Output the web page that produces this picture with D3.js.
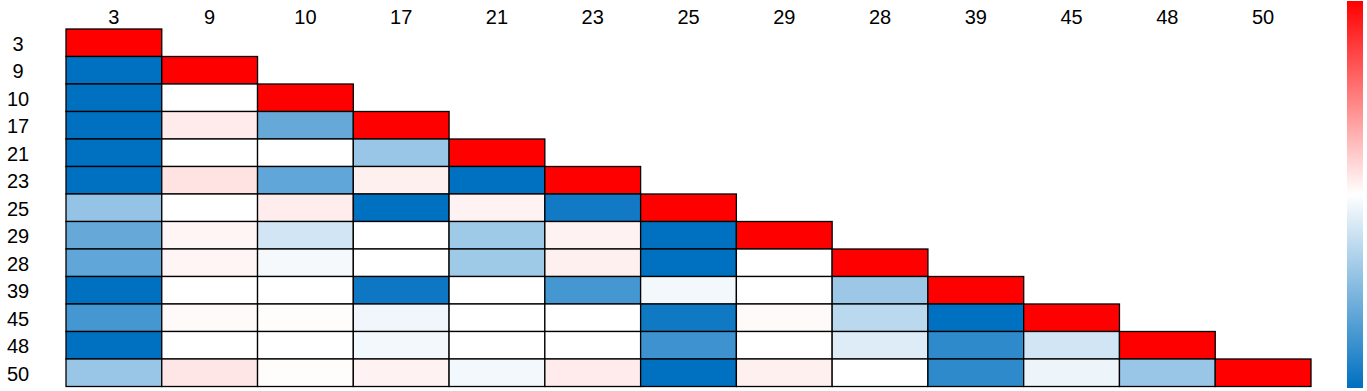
<!DOCTYPE html>
<html>
<head>
<meta charset="utf-8">
<script src="https://cdn.jsdelivr.net/npm/d3@7"></script>
<style>
  body { margin: 0; background: #fff; }
  text { font-family: "Liberation Sans", Arial, sans-serif; }
</style>
</head>
<body>
<div id="wrapper"></div>
<script>
// labels along both axes
const labels = ["3", "9", "10", "17", "21", "23", "25", "29", "28", "39", "45", "48", "50"]

// lower triangle, row by row (diagonal included)
const row3  = [1]
const row9  = [-1, 1]
const row10 = [-1, 0, 1]
const row17 = [-1, 0.08, -0.6, 1]
const row21 = [-1, 0, 0, -0.4, 1]
const row23 = [-1, 0.11, -0.62, 0.06, -1, 1]
const row25 = [-0.42, 0, 0.07, -1, 0.05, -0.93, 1]
const row29 = [-0.6, 0.04, -0.18, 0, -0.38, 0.05, -1, 1]
const row28 = [-0.62, 0.04, -0.04, 0, -0.38, 0.06, -1, 0, 1]
const row39 = [-1, 0, 0, -0.95, 0, -0.73, -0.05, 0, -0.39, 1]
const row45 = [-0.73, 0.02, 0.01, -0.06, 0, 0, -0.94, 0.02, -0.27, -1, 1]
const row48 = [-1, 0, 0, -0.05, 0, 0, -0.76, 0, -0.13, -0.82, -0.18, 1]
const row50 = [-0.4, 0.1, 0.01, 0.05, -0.05, 0.08, -1, 0.06, 0, -0.82, -0.07, -0.4, 1]

const rows = [row3, row9, row10, row17, row21, row23, row25, row29, row28, row39, row45, row48, row50]

const cells = []
rows.forEach((vals, i) => vals.forEach((v, j) => cells.push({ row: labels[i], col: labels[j], value: v })))

const dimensions = {
  width: 1367,
  height: 391,
  margin: { top: 29, right: 56, bottom: 4, left: 66 },
}
dimensions.boundedWidth = dimensions.width - dimensions.margin.left - dimensions.margin.right
dimensions.boundedHeight = dimensions.height - dimensions.margin.top - dimensions.margin.bottom

const wrapper = d3.select("#wrapper")
  .append("svg")
    .attr("width", dimensions.width)
    .attr("height", dimensions.height)

const bounds = wrapper.append("g")
  .attr("transform", `translate(${dimensions.margin.left},${dimensions.margin.top})`)

const xScale = d3.scaleBand()
  .domain(labels)
  .range([0, 1245])

const yScale = d3.scaleBand()
  .domain(labels)
  .range([0, 357.5])

const colorScale = d3.scaleLinear()
  .domain([-1, 0, 1])
  .range(["#0070c0", "#ffffff", "#ff0000"])
  .interpolate(d3.interpolateRgb)

bounds.selectAll("rect.cell")
  .data(cells)
  .join("rect")
    .attr("class", "cell")
    .attr("x", d => xScale(d.col))
    .attr("y", d => yScale(d.row))
    .attr("width", xScale.bandwidth())
    .attr("height", yScale.bandwidth())
    .attr("fill", d => colorScale(d.value))
    .attr("stroke", "#000")
    .attr("stroke-width", 1.3)

// column labels on top
bounds.selectAll("text.col")
  .data(labels)
  .join("text")
    .attr("class", "col")
    .attr("x", d => xScale(d) + xScale.bandwidth() / 2)
    .attr("y", -5)
    .attr("text-anchor", "middle")
    .style("font-size", "20px")
    .text(d => d)

// row labels on the left
bounds.selectAll("text.row")
  .data(labels)
  .join("text")
    .attr("class", "row")
    .attr("x", -48)
    .attr("y", d => yScale(d) + yScale.bandwidth() / 2)
    .attr("dy", "0.4em")
    .attr("text-anchor", "middle")
    .style("font-size", "20px")
    .text(d => d)

// colour bar
const defs = wrapper.append("defs")
const grad = defs.append("linearGradient")
  .attr("id", "bar")
  .attr("x1", 0).attr("y1", 0).attr("x2", 0).attr("y2", 1)
grad.selectAll("stop")
  .data([1, 0, -1])
  .join("stop")
    .attr("offset", (d, i) => `${i * 50}%`)
    .attr("stop-color", d => colorScale(d))

wrapper.append("rect")
  .attr("x", 1347)
  .attr("y", 1)
  .attr("width", 16)
  .attr("height", 387)
  .attr("fill", "url(#bar)")
</script>
</body>
</html>
